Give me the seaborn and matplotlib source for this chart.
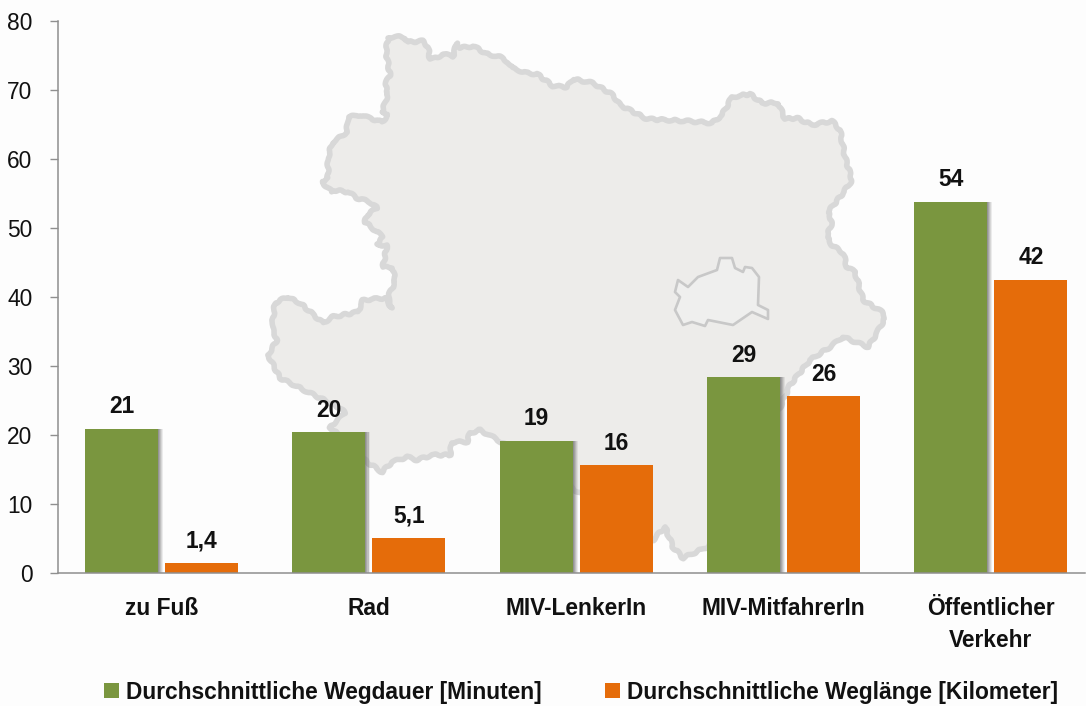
import matplotlib
matplotlib.use("Agg")
import matplotlib.pyplot as plt
import matplotlib.patheffects as pe
from matplotlib.patches import Polygon
import pandas as pd
import seaborn as sns

categories = ["zu Fuß", "Rad", "MIV-LenkerIn", "MIV-MitfahrerIn", "Öffentlicher\nVerkehr"]
dauer = [20.9, 20.4, 19.2, 28.4, 53.8]
laenge = [1.4, 5.1, 15.6, 25.6, 42.5]
dauer_labels = ["21", "20", "19", "29", "54"]
laenge_labels = ["1,4", "5,1", "16", "26", "42"]
series_names = ["Durchschnittliche Wegdauer [Minuten]", "Durchschnittliche Weglänge [Kilometer]"]
yticks = [0, 10, 20, 30, 40, 50, 60, 70, 80]

# decorative background silhouette (pixel coordinates of the picture)
land_outline = [
    (388,38),(395,36),(405,38),(408,42),(423,41),(428,47),(430,59),(437,58),(442,54),(453,56),
    (457,43),(460,48),(473,46),(487,54),(500,57),(508,62),(512,68),(527,73),(537,74),(553,86),
    (567,87),(573,79),(593,83),(613,95),(620,105),(647,119),(687,121),(712,123),(722,115),(732,97),
    (750,94),(762,103),(778,103),(785,119),(797,118),(812,125),(832,121),(840,130),(845,157),(852,180),
    (843,193),(828,212),(832,222),(827,237),(832,245),(843,253),(847,267),(855,272),(863,300),(882,312),
    (885,318),(877,333),(868,347),(843,337),(830,347),(810,360),(790,385),(730,520),(707,547),(683,558),
    (673,547),(665,527),(653,540),(575,490),(498,440),(480,430),(470,433),(467,442),(452,442),(450,455),
    (432,455),(417,460),(407,457),(392,462),(382,472),(367,462),(330,427),(345,413),(340,408),(310,393),
    (280,378),(268,355),(277,340),(272,327),(275,303),(287,297),(300,303),(323,323),(332,317),(358,312),
    (363,300),(385,298),(392,308),(388,297),(395,282),(393,268),(383,267),(387,245),(377,245),(383,237),
    (365,222),(367,215),(377,208),(370,202),(357,198),(348,192),(333,190),(332,192),(322,182),(328,178),
    (328,158),(332,143),(347,132),(348,117),(360,115),(382,122),(388,115),(382,113),(388,93),(385,85),
    (390,75),(386,52),
]
city_outline = [
    (678,280),(688,287),(698,277),(717,270),(720,258),(732,258),(735,268),(743,272),(745,267),(752,268),
    (759,277),(758,305),(768,310),(768,319),(752,312),(733,325),(708,320),(705,326),(692,322),(683,325),
    (675,310),(680,297),(675,292),
]

GREEN, ORANGE = "#7a963f", "#e56c0a"
W, H = 1086, 706
BOLD = ["Liberation Sans", "DejaVu Sans"]
TXT = 16.4

sns.set_theme(style="white")
plt.rcParams["font.family"] = ["Liberation Sans", "DejaVu Sans"]

fig = plt.figure(figsize=(W / 100, H / 100), dpi=100, facecolor="#fdfdfd")

bg = fig.add_axes([0, 0, 1, 1], zorder=0)
bg.set_xlim(0, W); bg.set_ylim(H, 0); bg.axis("off")
land = Polygon(land_outline, closed=True, facecolor="#edecea", edgecolor="#d8d8d8",
               linewidth=4.0, joinstyle="round")
land.set_sketch_params(scale=1.0, length=14, randomness=2)
bg.add_patch(land)
city = Polygon(city_outline, closed=True, facecolor="#efefee", edgecolor="#c8c8c8",
               linewidth=1.9, joinstyle="round")
bg.add_patch(city)

left, right, top, bottom = 58, 1085, 21, 573
ax = fig.add_axes([left / W, 1 - bottom / H, (right - left) / W, (bottom - top) / H], zorder=1)
ax.patch.set_alpha(0)

df = pd.DataFrame({
    "Kategorie": categories * 2,
    "Wert": dauer + laenge,
    "Serie": [series_names[0]] * 5 + [series_names[1]] * 5,
})
sns.barplot(data=df, x="Kategorie", y="Wert", hue="Serie", order=categories, hue_order=series_names,
            palette=[GREEN, ORANGE], width=0.772, gap=0.0875, saturation=1, ax=ax, errorbar=None,
            linewidth=0, edgecolor="none")

ax.set_xlim(-0.5, -0.5 + (right - left) / 207.3)
ax.set_ylim(0, 80)
ax.set_yticks(yticks)
ax.set_xlabel(""); ax.set_ylabel("")
for s in ("top", "right"):
    ax.spines[s].set_visible(False)
for s in ("left", "bottom"):
    ax.spines[s].set_color("#8f8f8f")
    ax.spines[s].set_linewidth(1.1)
ax.tick_params(axis="y", length=5.8, width=1.0, color="#8f8f8f", labelsize=16.4, pad=12.5, left=True, labelcolor="#111111")
ax.tick_params(axis="x", length=0, pad=17.5)
for t in ax.get_xticklabels():
    t.set_fontfamily(BOLD); t.set_fontweight("bold"); t.set_fontsize(TXT); t.set_color("#111111")
    t.set_linespacing(1.48)

shadow = [pe.SimplePatchShadow(offset=(o, 0), shadow_rgbFace="#6e6e6e", alpha=a)
          for o, a in ((3.6, 0.12), (2.9, 0.16), (2.2, 0.22), (1.4, 0.28), (0.7, 0.35))] + [pe.Normal()]
for container, labels in zip(ax.containers, (dauer_labels, laenge_labels)):
    ax.bar_label(container, labels=labels, padding=7.5, fontsize=TXT, fontweight="bold",
                 fontfamily=BOLD, color="#111111")
for bar in ax.containers[0]:
    bar.set_path_effects(shadow)

handles, labs = ax.get_legend_handles_labels()
ax.get_legend().remove()
fig.legend(handles, labs, loc="center", bbox_to_anchor=(581 / W, 1 - 692 / H), ncols=2, frameon=False,
           prop={"family": BOLD, "weight": "bold", "size": TXT}, labelcolor="#111111",
           handlelength=0.66, handleheight=0.66, handletextpad=0.3, columnspacing=2.8,
           borderpad=0, borderaxespad=0)

fig.savefig("out.png", dpi=100, facecolor=fig.get_facecolor())
